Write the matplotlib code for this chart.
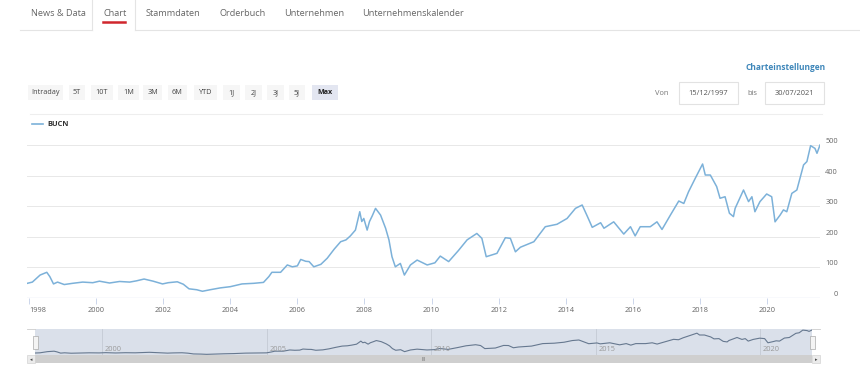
import matplotlib.pyplot as plt
from matplotlib.patches import Rectangle
from matplotlib.lines import Line2D

# --- DATA (decimal years / price) ---
YEARS = [1997.95, 1998.10, 1998.33, 1998.53, 1998.62, 1998.73, 1998.85, 1999.05, 1999.30, 1999.60,
         1999.90, 2000.10, 2000.40, 2000.70, 2001.00, 2001.20, 2001.43, 2001.70, 2001.98, 2002.15,
         2002.42, 2002.60, 2002.77, 2003.00, 2003.17, 2003.40, 2003.70, 2004.00, 2004.35, 2004.70,
         2004.99, 2005.15, 2005.24, 2005.50, 2005.70, 2005.85, 2006.00, 2006.10, 2006.25, 2006.35,
         2006.49, 2006.70, 2006.89, 2007.10, 2007.29, 2007.45, 2007.58, 2007.73, 2007.86, 2007.92,
         2007.98, 2008.08, 2008.15, 2008.23, 2008.33, 2008.48, 2008.63, 2008.73, 2008.82, 2008.92,
         2009.07, 2009.19, 2009.37, 2009.57, 2009.87, 2010.10, 2010.26, 2010.51, 2010.80, 2011.06,
         2011.35, 2011.50, 2011.63, 2011.95, 2012.20, 2012.35, 2012.50, 2012.65, 2013.05, 2013.39,
         2013.74, 2014.04, 2014.29, 2014.49, 2014.64, 2014.79, 2015.04, 2015.14, 2015.43, 2015.73,
         2015.93, 2016.07, 2016.22, 2016.52, 2016.72, 2016.87, 2017.12, 2017.37, 2017.52, 2017.66,
         2017.86, 2018.08, 2018.16, 2018.31, 2018.50, 2018.60, 2018.75, 2018.88, 2019.00, 2019.05,
         2019.30, 2019.45, 2019.55, 2019.64, 2019.79, 2019.99, 2020.14, 2020.24, 2020.39, 2020.49,
         2020.59, 2020.74, 2020.89, 2021.09, 2021.19, 2021.30, 2021.43, 2021.49, 2021.58]
PRICES = [48, 52, 75, 84, 70, 46, 52, 44, 48, 52,
          50, 55, 49, 54, 52, 56, 62, 55, 46, 50,
          53, 45, 30, 27, 22, 27, 33, 37, 46, 48,
          51, 70, 84, 84, 108, 102, 105, 126, 120, 119,
          102, 110, 130, 160, 184, 190, 203, 222, 282, 250,
          260, 222, 250, 268, 293, 271, 228, 190, 135, 102,
          113, 75, 108, 124, 108, 115, 137, 119, 155, 190,
          211, 195, 135, 146, 197, 195, 151, 166, 184, 233,
          241, 260, 293, 304, 268, 231, 246, 228, 249, 209,
          233, 203, 233, 233, 249, 224, 271, 317, 309, 347,
          391, 438, 402, 402, 364, 326, 331, 277, 266, 293,
          353, 315, 331, 282, 315, 340, 331, 249, 271, 288,
          282, 342, 353, 435, 446, 498, 489, 473, 500]
SERIES = 'BUCN'
Y_TICKS = [0, 100, 200, 300, 400, 500]
X_TICKS = list(range(1998, 2021, 2))
NAV_TICKS = [2000, 2005, 2010, 2015, 2020]
TABS = ['News & Data', 'Chart', 'Stammdaten', 'Orderbuch', 'Unternehmen', 'Unternehmenskalender']
RANGES = ['Intraday', '5T', '10T', '1M', '3M', '6M', 'YTD', '1J', '2J', '3J', '5J', 'Max']
DATE_FROM, DATE_TO = '15/12/1997', '30/07/2021'

W, H = 860, 371
LINE_C = '#7cb1d9'
FONT = 'Open Sans'

plt.rcParams['font.family'] = [FONT, 'DejaVu Sans']

fig = plt.figure(figsize=(W / 100, H / 100), dpi=100)


def fx(x):
    return x / W


def fy(y):
    return 1 - y / H


def rect(x0, y0, x1, y1, **kw):
    fig.add_artist(Rectangle((fx(x0), fy(y1)), fx(x1 - x0), (y1 - y0) / H,
                             transform=fig.transFigure, **kw))


def hline(x0, x1, y, **kw):
    fig.add_artist(Line2D([fx(x0), fx(x1)], [fy(y), fy(y)], transform=fig.transFigure, **kw))


def vline(x, y0, y1, **kw):
    fig.add_artist(Line2D([fx(x), fx(x)], [fy(y0), fy(y1)], transform=fig.transFigure, **kw))


# --- tabs ---
tab_x = [31, 103, 146, 220, 284, 362]
for t, x in zip(TABS, tab_x):
    fig.text(fx(x), fy(13.5), t, fontsize=6.6, color='#666666', va='center', ha='left')
hline(20, 92, 30, color='#e4e4e4', lw=0.8)
hline(135, 860, 30, color='#e4e4e4', lw=0.8)
vline(92, 0, 30, color='#e4e4e4', lw=0.8)
vline(135, 0, 30, color='#e4e4e4', lw=0.8)
hline(103, 125, 21.5, color='#d0262d', lw=1.8)

# --- range buttons ---
btn_box = [(28, 63), (69, 85), (91, 113), (118, 139), (143, 162), (168, 187),
           (194, 217), (223, 240), (245, 262), (267, 284), (289, 305), (312, 338)]
for lab, (a, b) in zip(RANGES, btn_box):
    sel = lab == 'Max'
    rect(a, 85, b, 100, facecolor='#e3e6f1' if sel else '#f6f6f6', edgecolor='none')
    fig.text(fx((a + b) / 2), fy(92.5), lab, fontsize=5.2, ha='center', va='center',
             color='#222222' if sel else '#444444', fontweight='bold' if sel else 'normal')

# --- date inputs ---
fig.text(fx(826), fy(67.5), 'Charteinstellungen', fontsize=6.0, fontweight='bold',
         color='#3f87ba', ha='right', va='center')
fig.text(fx(662), fy(93.5), 'Von', fontsize=5.4, color='#777777', ha='center', va='center')
rect(679, 82, 738, 104, facecolor='white', edgecolor='#e2e2e2', lw=0.8)
fig.text(fx(708.5), fy(93.5), DATE_FROM, fontsize=5.4, color='#555555', ha='center', va='center')
fig.text(fx(752), fy(93.5), 'bis', fontsize=5.4, color='#777777', ha='center', va='center')
rect(765, 82, 824, 104, facecolor='white', edgecolor='#e2e2e2', lw=0.8)
fig.text(fx(794.5), fy(93.5), DATE_TO, fontsize=5.4, color='#555555', ha='center', va='center')
hline(30, 822, 114, color='#eeeeee', lw=0.8)

# --- legend ---
hline(32, 43, 124, color=LINE_C, lw=1.2)
fig.text(fx(47), fy(124), SERIES, fontsize=5.4, fontweight='bold', color='#333333', va='center')

# --- main chart ---
XMIN, XMAX = 1997.94, 2021.58
ax = fig.add_axes([fx(27), fy(298), fx(820 - 27), (298 - 138) / H])
ax.plot(YEARS, PRICES, color=LINE_C, lw=1.1, solid_joinstyle='round')
ax.set_xlim(XMIN, XMAX)
ax.set_ylim(0, 523)
for s in ax.spines.values():
    s.set_visible(False)
ax.axhline(0, color='#ccd6eb', lw=0.9, zorder=0)
for v in Y_TICKS[1:]:
    ax.axhline(v, color='#e8e8e8', lw=0.7, zorder=0)
ax.yaxis.tick_right()
ax.set_yticks(Y_TICKS)
ax.set_yticklabels([str(v) for v in Y_TICKS])
ax.tick_params(axis='y', length=0, pad=13, labelsize=5.3, labelcolor='#666666')
for lbl in ax.get_yticklabels():
    lbl.set_horizontalalignment('right')
    lbl.set_verticalalignment('bottom')
ax.set_xticks(X_TICKS)
ax.set_xticklabels([str(v) for v in X_TICKS])
ax.tick_params(axis='x', length=4, width=0.7, color='#ccd6eb', pad=2.5,
               labelsize=5.3, labelcolor='#666666')
ax.get_xticklabels()[0].set_horizontalalignment('left')
ax.get_xticklabels()[0].set_x(1997.98)

# --- navigator ---
nav = fig.add_axes([fx(35), fy(355), fx(812 - 35), (355 - 329) / H])
nav.set_facecolor('#dae0ea')
nav.plot(YEARS, PRICES, color='#66788f', lw=0.8)
nav.set_xlim(YEARS[0], YEARS[-1])
nav.set_ylim(9, 520)
for s in nav.spines.values():
    s.set_visible(False)
nav.set_yticks([])
nav.set_xticks([])
for t in NAV_TICKS:
    nav.axvline(t, color='#c4cad4', lw=0.6, zorder=0)
    nav.text(t + 0.08, 0.2, str(t), transform=nav.get_xaxis_transform(), fontsize=5.3,
             color='#9a9a9a', va='center', ha='left')
hline(27, 35, 329, color='#cccccc', lw=0.6)
hline(812, 820, 329, color='#cccccc', lw=0.6)
for x in (35.5, 812):
    rect(x - 2.5, 336, x + 2.5, 349, facecolor='#f4f4f4', edgecolor='#aaaaaa', lw=0.5)

# --- scrollbar ---
rect(35, 355, 812, 363, facecolor='#cfcfcf', edgecolor='none')
rect(27, 355, 35, 363, facecolor='#ebebeb', edgecolor='#cccccc', lw=0.4)
rect(812, 355, 820, 363, facecolor='#ebebeb', edgecolor='#cccccc', lw=0.4)
fig.text(fx(31), fy(359.3), '◂', fontsize=3.5, color='#444444', ha='center', va='center')
fig.text(fx(816), fy(359.3), '▸', fontsize=3.5, color='#444444', ha='center', va='center')
fig.text(fx(423.5), fy(359.3), 'III', fontsize=3.6, color='#666666', ha='center', va='center')

fig.savefig('out.png', dpi=100)
